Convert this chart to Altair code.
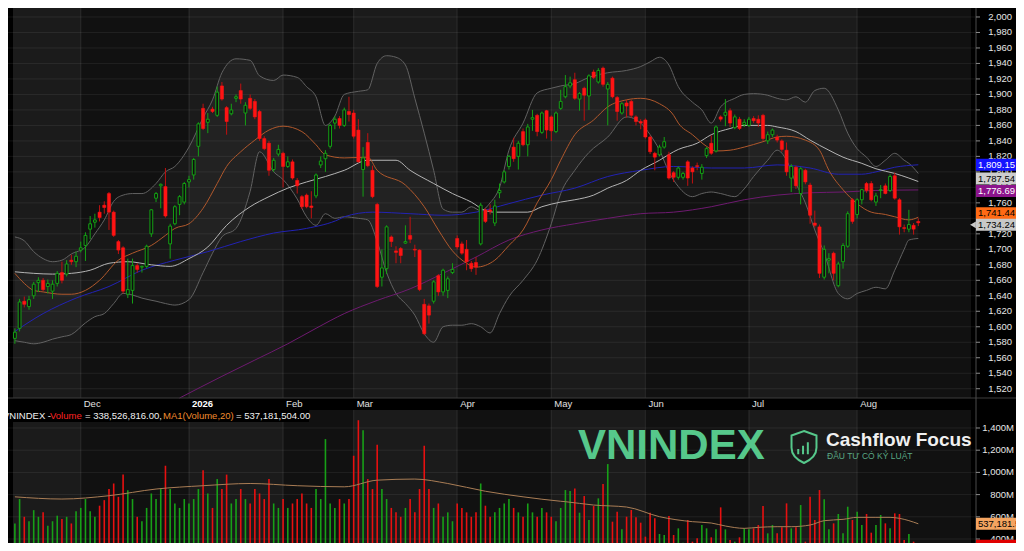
import altair as alt
import pandas as pd

FONT = "Liberation Sans"

# ---------------- VNINDEX daily candles (trading-day index 0..192) ----------------
opens = [1585,1598,1633,1626,1640,1657,1660,1652,1646,1656,
         1670,1668,1686,1684,1699,1705,1726,1735,1748,1757,
         1772,1748,1710,1702,1642,1647,1679,1677,1678,1720,
         1766,1782,1781,1707,1733,1758,1761,1787,1796,1833,
         1882,1864,1881,1873,1911,1883,1875,1895,1905,1876,
         1895,1891,1878,1843,1837,1803,1823,1824,1807,1813,
         1789,1768,1770,1756,1769,1809,1817,1833,1863,1869,
         1860,1878,1876,1854,1803,1838,1802,1758,1664,1675,
         1716,1698,1701,1708,1718,1700,1699,1629,1627,1633,
         1666,1645,1647,1670,1714,1707,1700,1682,1683,1707,
         1751,1751,1734,1773,1787,1807,1832,1820,1852,1835,
         1868,1873,1851,1879,1871,1852,1882,1897,1911,1919,
         1894,1908,1898,1929,1916,1934,1907,1921,1896,1876,
         1889,1891,1871,1865,1867,1845,1824,1822,1832,1822,
         1799,1793,1793,1813,1805,1808,1798,1821,1837,1827,
         1871,1873,1879,1857,1868,1861,1860,1869,1868,1873,
         1840,1848,1845,1840,1828,1792,1806,1772,1802,1783,
         1734,1729,1664,1686,1695,1653,1684,1704,1764,1745,
         1764,1785,1785,1761,1776,1782,1776,1795,1764,1728,
         1726,1731,1736]
highs = [1598,1636,1639,1640,1658,1664,1663,1661,1660,1672,
         1684,1686,1693,1697,1710,1722,1743,1746,1757,1762,
         1774,1750,1712,1704,1688,1688,1682,1679,1706,1752,
         1774,1785,1805,1733,1757,1770,1787,1795,1818,1864,
         1888,1876,1884,1910,1916,1885,1888,1900,1914,1890,
         1900,1894,1880,1846,1840,1818,1835,1826,1820,1816,
         1792,1770,1772,1775,1798,1820,1828,1862,1872,1872,
         1883,1897,1880,1868,1832,1850,1808,1760,1700,1731,
         1718,1704,1703,1731,1742,1706,1700,1636,1630,1660,
         1668,1675,1665,1682,1718,1710,1712,1685,1690,1760,
         1753,1758,1764,1785,1802,1822,1844,1840,1856,1862,
         1880,1875,1878,1880,1873,1878,1906,1925,1923,1928,
         1903,1910,1926,1932,1934,1936,1916,1923,1898,1890,
         1893,1893,1873,1868,1869,1847,1826,1835,1845,1826,
         1801,1807,1800,1815,1807,1812,1810,1832,1847,1860,
         1873,1894,1882,1874,1871,1868,1871,1872,1873,1875,
         1852,1856,1848,1842,1838,1810,1808,1806,1804,1786,
         1750,1732,1705,1695,1697,1684,1708,1749,1766,1766,
         1778,1787,1788,1773,1783,1785,1797,1799,1766,1732,
         1751,1734,1740]
lows = [1578,1594,1625,1622,1636,1645,1646,1643,1636,1652,
        1656,1665,1680,1677,1696,1685,1713,1728,1736,1746,
        1725,1716,1694,1643,1637,1630,1670,1670,1676,1716,
        1761,1753,1741,1688,1731,1744,1758,1780,1790,1820,
        1854,1850,1876,1871,1892,1848,1873,1890,1888,1860,
        1880,1868,1840,1828,1795,1800,1820,1780,1805,1790,
        1772,1752,1753,1740,1766,1805,1800,1830,1855,1856,
        1858,1865,1843,1812,1768,1806,1766,1650,1652,1668,
        1703,1682,1682,1707,1708,1690,1646,1589,1604,1630,
        1640,1640,1637,1668,1700,1693,1673,1671,1667,1705,
        1734,1745,1730,1766,1785,1803,1813,1803,1833,1820,
        1853,1846,1849,1843,1840,1850,1880,1895,1908,1893,
        1879,1866,1880,1920,1914,1910,1860,1895,1866,1874,
        1870,1870,1860,1855,1843,1823,1802,1820,1830,1790,
        1787,1790,1790,1782,1785,1802,1790,1818,1822,1825,
        1865,1859,1858,1855,1854,1858,1858,1863,1858,1840,
        1836,1845,1838,1826,1795,1774,1778,1758,1784,1733,
        1728,1663,1661,1669,1660,1651,1675,1702,1733,1740,
        1758,1773,1762,1756,1766,1771,1774,1764,1719,1722,
        1722,1719,1730]
closes = [1593,1632,1629,1635,1655,1660,1648,1656,1655,1669,
          1660,1681,1684,1691,1702,1718,1733,1738,1741,1754,
          1748,1718,1699,1646,1648,1679,1674,1678,1704,1751,
          1772,1784,1743,1730,1755,1768,1785,1790,1816,1862,
          1856,1868,1878,1903,1894,1865,1880,1897,1894,1886,
          1882,1871,1843,1830,1802,1815,1829,1807,1813,1792,
          1782,1755,1755,1754,1796,1814,1824,1860,1868,1860,
          1880,1874,1846,1813,1818,1808,1768,1652,1676,1729,
          1710,1696,1692,1710,1713,1699,1648,1591,1615,1658,
          1645,1673,1662,1674,1703,1695,1684,1675,1677,1757,
          1736,1749,1756,1776,1800,1820,1817,1837,1835,1858,
          1870,1852,1876,1854,1853,1876,1891,1910,1915,1895,
          1901,1899,1924,1922,1931,1913,1913,1897,1878,1888,
          1885,1873,1865,1863,1845,1826,1819,1832,1839,1792,
          1793,1805,1798,1792,1800,1807,1806,1830,1824,1858,
          1868,1877,1863,1871,1856,1864,1868,1866,1863,1843,
          1848,1854,1841,1829,1800,1807,1782,1804,1787,1744,
          1731,1669,1700,1688,1669,1681,1705,1746,1736,1764,
          1777,1776,1764,1769,1777,1772,1794,1766,1729,1727,
          1732,1726,1734.24]
# volume, millions of shares
volumes = [540,760,600,560,660,600,640,520,560,610,
           580,600,540,650,680,760,650,600,700,750,
           850,900,780,980,840,760,600,560,680,810,
           760,850,1060,850,720,680,760,720,760,850,
           1020,810,680,940,850,980,720,760,850,760,
           720,850,810,760,940,720,680,760,680,720,
           760,810,720,680,850,760,1300,720,680,760,
           720,760,1150,1470,1380,940,850,1250,850,760,
           680,640,600,680,760,640,850,1240,850,680,
           720,600,640,560,720,680,640,600,640,900,
           700,600,640,680,720,760,680,640,600,720,
           640,600,680,640,600,560,680,841,832,856,
           637,787,571,697,766,895,1075,556,646,487,
           601,661,595,547,421,637,586,445,436,607,
           436,496,367,571,376,406,526,496,415,487,
           685,487,391,376,415,496,487,496,526,697,
           451,526,451,505,721,496,505,706,376,781,
           571,841,757,487,541,625,451,691,571,646,
           526,625,457,526,616,541,496,631,625,391,
           445,376,338.526816]

# ---------------- indicator lines ----------------
ma20_i = [0,2,4,6,10,12,15,18,22,25,29,32,34,37,40,43,45,48,51,54,
          57,61,64,66,70,75,77,83,87,90,93,96,98,102,105,108,111,114,116,119,
          123,126,130,133,137,140,141,144,147,149,152,155,159,162,164,168,171,173,176,179,
          182,185,187,190,192]
ma20_v = [1669,1656,1647,1645,1642,1642,1647,1660,1686,1695,1705,1718,1727,1733,1753,1785,1807,1826,1841,1854,
          1859,1852,1835,1822,1818,1819,1802,1783,1755,1725,1698,1682,1677,1686,1705,1725,1760,1790,1815,1848,
          1867,1884,1893,1895,1888,1873,1863,1848,1833,1827,1828,1832,1839,1845,1846,1841,1828,1802,1777,1759,
          1748,1745,1742,1738,1741.44]
ma50_i = [0,4,8,12,16,20,24,29,33,37,41,45,50,54,58,62,66,70,75,81,
          84,89,93,97,100,102,109,112,116,119,123,126,130,133,137,140,141,145,148,152,
          155,160,162,166,169,173,176,180,183,187,190,192]
ma50_v = [1671,1669,1668,1669,1673,1682,1684,1680,1678,1688,1703,1731,1755,1768,1779,1787,1794,1802,1815,1815,
          1802,1785,1772,1761,1750,1748,1748,1755,1761,1764,1770,1779,1789,1802,1815,1826,1829,1837,1848,1856,
          1860,1860,1858,1852,1841,1828,1819,1811,1804,1798,1792,1787.54]
ma100_i = [0,6,13,20,27,34,41,48,55,62,69,70,76,84,91,98,105,112,119,126,
           133,140,148,155,162,169,175,180,183,187,192]
ma100_v = [1594,1617,1637,1652,1673,1686,1697,1710,1721,1727,1739,1742,1748,1746,1744,1748,1759,1770,1779,1794,
           1802,1807,1805,1805,1809,1805,1797,1797,1800,1806,1809.15]
ma200_i = [35,44,51,58,64,70,77,84,91,98,105,112,119,126,133,140,148,155,162,169,176,183,192]
ma200_v = [1508,1536,1557,1578,1598,1617,1634,1649,1669,1690,1712,1725,1733,1740,1746,1748,1755,1764,1770,1773,
           1774,1776,1776.69]

band_i = [0,2,4,6,8,10,12,15,17,19, 21,23,25,27,30,32,34,37,40,42,
          44,47,50,52,55,57,60,62,64,66, 68,70,73,75,77,79,81,83,85,87,
          89,91,93,95,97,99,101,103,105,108, 111,114,116,119,122,126,130,133,135,137,
          139,141,144,146,148,150,153,155,157,160, 162,164,166,168,170,172,175,177,179,181,
          183,185,187,189,190,192]
band_up = [1716,1711,1697,1688,1684,1686,1694,1703,1720,1738, 1762,1770,1772,1772,1785,1800,1807,1832,1870,1893,
           1928,1946,1944,1924,1918,1925,1922,1910,1897,1860, 1872,1900,1904,1906,1940,1950,1948,1938,1895,1850,
           1802,1752,1748,1748,1755,1750,1760,1780,1828,1863, 1902,1908,1911,1914,1922,1928,1931,1936,1942,1948,
           1938,1910,1890,1880,1863,1884,1895,1900,1901,1899, 1895,1893,1897,1890,1905,1908,1880,1850,1830,1819,
           1807,1815,1824,1815,1811,1798]
band_lo = [1582,1580,1578,1580,1584,1587,1590,1605,1613,1617, 1630,1643,1641,1637,1633,1630,1628,1635,1670,1695,
           1716,1727,1775,1826,1800,1790,1765,1742,1731,1746, 1740,1742,1740,1738,1710,1670,1643,1630,1615,1591,
           1580,1600,1602,1602,1604,1600,1592,1617,1639,1660, 1686,1733,1772,1802,1825,1845,1871,1863,1848,1828,
           1800,1781,1768,1772,1774,1772,1768,1778,1794,1815, 1828,1815,1785,1760,1725,1695,1643,1636,1643,1647,
           1651,1649,1673,1700,1712,1714]

vol_ma_i = [0,10,20,30,40,50,60,70,77,85,92,100,108,116,117,123,130,137,144,148,
            151,155,158,162,165,169,172,176,179,183,186,188,192]
vol_ma_v = [780,760,790,850,880,900,880,870,930,940,900,830,780,740,736,706,688,601,556,544,
            517,496,505,511,511,526,565,577,595,595,595,586,537.181504]

month_names = ["Nov", "Dec", "2026", "Feb", "Mar", "Apr", "May", "Jun", "Jul", "Aug"]
month_start = [-0.4, 14, 37, 57, 72, 94, 114, 134, 156, 179]
price_ticks = [1520, 1540, 1560, 1580, 1600, 1620, 1640, 1660, 1680, 1700, 1720, 1740, 1760,
               1780, 1800, 1820, 1840, 1860, 1880, 1900, 1920, 1940, 1960, 1980, 2000, 2020]
volume_ticks = [400, 600, 800, 1000, 1200, 1400]

# ---------------- layout ----------------
W, H = 968, 535
PRICE_BOTTOM = 390
VOL_TOP = 402
X_DOMAIN = [-0.4, 203.2]
P_DOMAIN = [1320.8, 2011.6]
V_DOMAIN = [364, 5183]

XS = alt.Scale(domain=X_DOMAIN, nice=False, zero=False)
PS = alt.Scale(domain=P_DOMAIN, nice=False, zero=False)
VS = alt.Scale(domain=V_DOMAIN, nice=False, zero=False)


def px(f):
    return alt.X(f, type="quantitative", scale=XS, axis=None)


def py(f):
    return alt.Y(f, type="quantitative", scale=PS, axis=None)


def vy(f):
    return alt.Y(f, type="quantitative", scale=VS, axis=None)


GREEN = "#14a014"
RED = "#ff1414"
RED_WICK = "#c01010"
LOGO_GREEN = "#56c88b"

df = pd.DataFrame({"i": list(range(len(closes))), "open": opens, "high": highs,
                   "low": lows, "close": closes, "vol": volumes})
is_up = alt.datum.close >= alt.datum.open
is_dn = alt.datum.close < alt.datum.open

mdf = pd.DataFrame({"name": month_names, "start": month_start,
                    "end": month_start[1:] + [X_DOMAIN[1]],
                    "shade": ["light" if k % 2 == 0 else "dark" for k in range(len(month_names))]})
mlines_df = mdf.iloc[1:].reset_index(drop=True)
shade = alt.when(alt.datum.shade == "light").then(alt.value("#1b1b1b")).otherwise(alt.value("#111111"))

# ---------------- price panel ----------------
bg_price = alt.Chart(mdf).mark_rect().encode(
    x=px("start"), x2="end:Q", y=alt.value(0), y2=alt.value(PRICE_BOTTOM), color=shade)
grid_p = alt.Chart(pd.DataFrame({"v": price_ticks})).mark_rule(
    color="#ffffff", opacity=0.07).encode(y=py("v"), x=alt.value(0), x2=alt.value(W))
mlines_p = alt.Chart(mlines_df).mark_rule(color="#ffffff", opacity=0.11).encode(
    x=px("start"), y=alt.value(0), y2=alt.value(PRICE_BOTTOM))

bdf = pd.DataFrame({"i": band_i, "up": band_up, "lo": band_lo})
band_fill = alt.Chart(bdf).mark_area(color="#ffffff", opacity=0.03, interpolate="monotone").encode(
    x=px("i"), y=py("up"), y2="lo:Q")
band_up_line = alt.Chart(bdf).mark_line(color="#626262", strokeWidth=1, interpolate="monotone").encode(
    x=px("i"), y=py("up"))
band_lo_line = alt.Chart(bdf).mark_line(color="#626262", strokeWidth=1, interpolate="monotone").encode(
    x=px("i"), y=py("lo"))


def ma_line(iv, vv, color, w=1.0):
    d = pd.DataFrame({"i": iv, "v": vv})
    return alt.Chart(d).mark_line(color=color, strokeWidth=w, interpolate="monotone").encode(
        x=px("i"), y=py("v"))


l200 = ma_line(ma200_i, ma200_v, "#6e1a70")
l100 = ma_line(ma100_i, ma100_v, "#2222b4")
l50 = ma_line(ma50_i, ma50_v, "#b4b4b4", 1.0)
l20 = ma_line(ma20_i, ma20_v, "#b0582c")

wick_up = alt.Chart(df).transform_filter(is_up).mark_rule(color=GREEN, strokeWidth=1).encode(
    x=px("i"), y=py("low"), y2="high:Q")
wick_dn = alt.Chart(df).transform_filter(is_dn).mark_rule(color=RED_WICK, strokeWidth=1).encode(
    x=px("i"), y=py("low"), y2="high:Q")
body_up = alt.Chart(df).transform_filter(is_up).mark_bar(
    width=2.8, fill="#0e0e0e", stroke=GREEN, strokeWidth=1).encode(x=px("i"), y=py("open"), y2="close:Q")
body_dn = alt.Chart(df).transform_filter(is_dn).mark_bar(
    width=3.2, fill=RED, stroke=RED, strokeWidth=0.5).encode(x=px("i"), y=py("open"), y2="close:Q")

bottom_line = alt.Chart(pd.DataFrame({"a": [0]})).mark_rule(color="#3c3c3c").encode(
    x=alt.value(0), x2=alt.value(W + 40), y=alt.value(PRICE_BOTTOM))
axis_line = alt.Chart(pd.DataFrame({"a": [0]})).mark_rule(color="#4a4a4a").encode(
    x=alt.value(W), y=alt.value(0), y2=alt.value(H))

tick_df = pd.DataFrame({"v": price_ticks})
p_ticks = alt.Chart(tick_df).mark_rule(color="#8a8a8a").encode(
    x=alt.value(W), x2=alt.value(W + 4), y=py("v"))
p_labels = alt.Chart(tick_df).mark_text(
    align="right", baseline="middle", font=FONT, fontSize=9.5, color="#e6e6e6").encode(
    x=alt.value(W + 36), y=py("v"), text=alt.Text("v:Q", format=","))

mlab = alt.Chart(mlines_df).transform_filter(alt.datum.name != "2026").mark_text(
    align="left", baseline="middle", dx=3, font=FONT, fontSize=9.5, color="#e0e0e0").encode(
    x=px("start"), y=alt.value(396), text="name:N")
mlab_year = alt.Chart(mlines_df).transform_filter(alt.datum.name == "2026").mark_text(
    align="left", baseline="middle", dx=3, font=FONT, fontSize=9.5, fontWeight="bold", color="#ffffff").encode(
    x=px("start"), y=alt.value(396), text="name:N")

RECT = "M-1,-0.3L1,-0.3L1,0.3L-1,0.3Z"
badge_specs = [
    (ma100_v[-1], "#1414ff", "#ffffff", 0),
    (ma50_v[-1], "#cdcdcd", "#000000", -3),
    (ma200_v[-1], "#8c148c", "#ffffff", 1),
    (ma20_v[-1], "#ff6a14", "#000000", -4),
    (closes[-1], "#c8c8c8", "#000000", 2),
]
badges = []
for val, bg, fg, dy in badge_specs:
    bd = pd.DataFrame({"v": [val]})
    badges.append(alt.Chart(bd).mark_point(
        shape=RECT, size=1600, filled=True, color=bg, opacity=1, strokeWidth=0, yOffset=dy).encode(
        x=alt.value(W + 20), y=py("v")))
    badges.append(alt.Chart(bd).mark_text(
        align="left", baseline="middle", font=FONT, fontSize=9.5, color=fg, yOffset=dy).encode(
        x=alt.value(W + 2), y=py("v"), text=alt.Text("v:Q", format=",.2f")))
arrow = alt.Chart(pd.DataFrame({"v": [closes[-1]]})).mark_point(
    shape="triangle-left", size=45, filled=True, color="#c8c8c8", opacity=1, yOffset=2).encode(
    x=alt.value(W - 3), y=py("v"))

price = alt.layer(bg_price, grid_p, mlines_p, band_fill, band_up_line, band_lo_line,
                  l200, l100, l50, l20, wick_up, wick_dn, body_up, body_dn,
                  bottom_line, axis_line, p_ticks, p_labels, mlab, mlab_year, *badges, arrow)

# ---------------- volume panel ----------------
bg_vol = alt.Chart(mdf).mark_rect().encode(
    x=px("start"), x2="end:Q", y=alt.value(VOL_TOP), y2=alt.value(H), color=shade)
mlines_v = alt.Chart(mlines_df).mark_rule(color="#ffffff", opacity=0.11).encode(
    x=px("start"), y=alt.value(VOL_TOP), y2=alt.value(H))
vt_df = pd.DataFrame({"v": volume_ticks})
grid_v = alt.Chart(vt_df).mark_rule(color="#ffffff", opacity=0.07).encode(
    y=vy("v"), x=alt.value(0), x2=alt.value(W))
vol_up = alt.Chart(df).transform_filter(is_up).mark_rule(color="#17a017", strokeWidth=1.6).encode(
    x=px("i"), y=vy("vol"), y2=alt.value(H))
vol_dn = alt.Chart(df).transform_filter(is_dn).mark_rule(color="#e81010", strokeWidth=1.6).encode(
    x=px("i"), y=vy("vol"), y2=alt.value(H))
vol_ma = alt.Chart(pd.DataFrame({"i": vol_ma_i, "v": vol_ma_v})).mark_line(
    color="#a97d55", strokeWidth=1, interpolate="monotone").encode(x=px("i"), y=vy("v"))
v_ticks = alt.Chart(vt_df).mark_rule(color="#8a8a8a").encode(
    x=alt.value(W), x2=alt.value(W + 4), y=vy("v"))
v_labels = alt.Chart(vt_df).transform_calculate(lab="format(datum.v, ',') + 'M'").mark_text(
    align="right", baseline="middle", font=FONT, fontSize=9.5, color="#e6e6e6").encode(
    x=alt.value(W + 38), y=vy("v"), text="lab:N")
vbadges = []
for val, bg, fg in [(vol_ma_v[-1], "#f4a460", "#000000"), (volumes[-1], "#e00000", "#ffffff")]:
    bd = pd.DataFrame({"v": [val]})
    vbadges.append(alt.Chart(bd).mark_point(
        shape=RECT, size=1600, filled=True, color=bg, opacity=1, strokeWidth=0).encode(
        x=alt.value(W + 20), y=vy("v")))
    vbadges.append(alt.Chart(bd).transform_calculate(lab="format(datum.v * 1000, ',.1f')").mark_text(
        align="left", baseline="middle", font=FONT, fontSize=9.5, color=fg).encode(
        x=alt.value(W + 2), y=vy("v"), text="lab:N"))

vol = alt.layer(bg_vol, mlines_v, grid_v, vol_up, vol_dn, vol_ma, v_ticks, v_labels, *vbadges)

# ---------------- overlays: info line, watermark, logo ----------------
one = pd.DataFrame({"a": [0]})
info_box = alt.Chart(one).mark_rect(color="#000000").encode(
    x=alt.value(0), x2=alt.value(301), y=alt.value(VOL_TOP), y2=alt.value(414))
vol_str = f"{volumes[-1] * 1e6:,.2f}"
ma_str = f"{vol_ma_v[-1] * 1e6:,.2f}"
segments = [("VNINDEX -", "#f0f0f0", -5), ("Volume", "#ff2222", 42), (f"= {vol_str},", "#f0f0f0", 77),
            ("MA1(Volume,20)", "#f08c2e", 155), (f"= {ma_str}", "#f0f0f0", 228)]
info_texts = [alt.Chart(one).mark_text(align="left", baseline="middle", font=FONT, fontSize=9.5,
                                        color=c, text=t).encode(x=alt.value(xx), y=alt.value(408))
              for t, c, xx in segments]
watermark = alt.Chart(one).mark_text(
    align="left", baseline="alphabetic", font=FONT, fontSize=42, fontWeight="bold",
    color=LOGO_GREEN, text="VNINDEX").encode(x=alt.value(570), y=alt.value(451))
cf_text = alt.Chart(one).mark_text(
    align="left", baseline="alphabetic", font=FONT, fontSize=19, fontWeight="bold",
    color="#f0f0f0", text="Cashflow Focus").encode(x=alt.value(818), y=alt.value(438))
cf_sub = alt.Chart(one).mark_text(
    align="left", baseline="alphabetic", font=FONT, fontSize=8.5,
    color="#5aa884", text="ĐẦU TƯ CÓ KỶ LUẬT").encode(x=alt.value(819), y=alt.value(451))
SHIELD = ("M0,-1L0.78,-0.72L0.78,0.05C0.78,0.55 0.4,0.82 0,1C-0.4,0.82 -0.78,0.55 -0.78,0.05L-0.78,-0.72Z"
          "M-0.36,0.45L-0.36,0.12M-0.06,0.45L-0.06,-0.08M0.24,0.45L0.24,-0.3")
logo = alt.Chart(one).mark_point(
    shape=SHIELD, size=1024, filled=False, color=LOGO_GREEN, strokeWidth=2, opacity=1).encode(
    x=alt.value(796), y=alt.value(439))

overlay = alt.layer(info_box, *info_texts, watermark, cf_text, cf_sub, logo)

chart = alt.layer(price, vol, overlay).resolve_scale(y="independent").properties(
    width=W, height=H, background="#000000",
    padding={"left": 0, "top": 0, "right": 40, "bottom": 0},
    autosize=alt.AutoSizeParams(type="none"),
).configure_view(stroke=None)

chart.save("out.html", embed_options={"renderer": "svg", "actions": False})
